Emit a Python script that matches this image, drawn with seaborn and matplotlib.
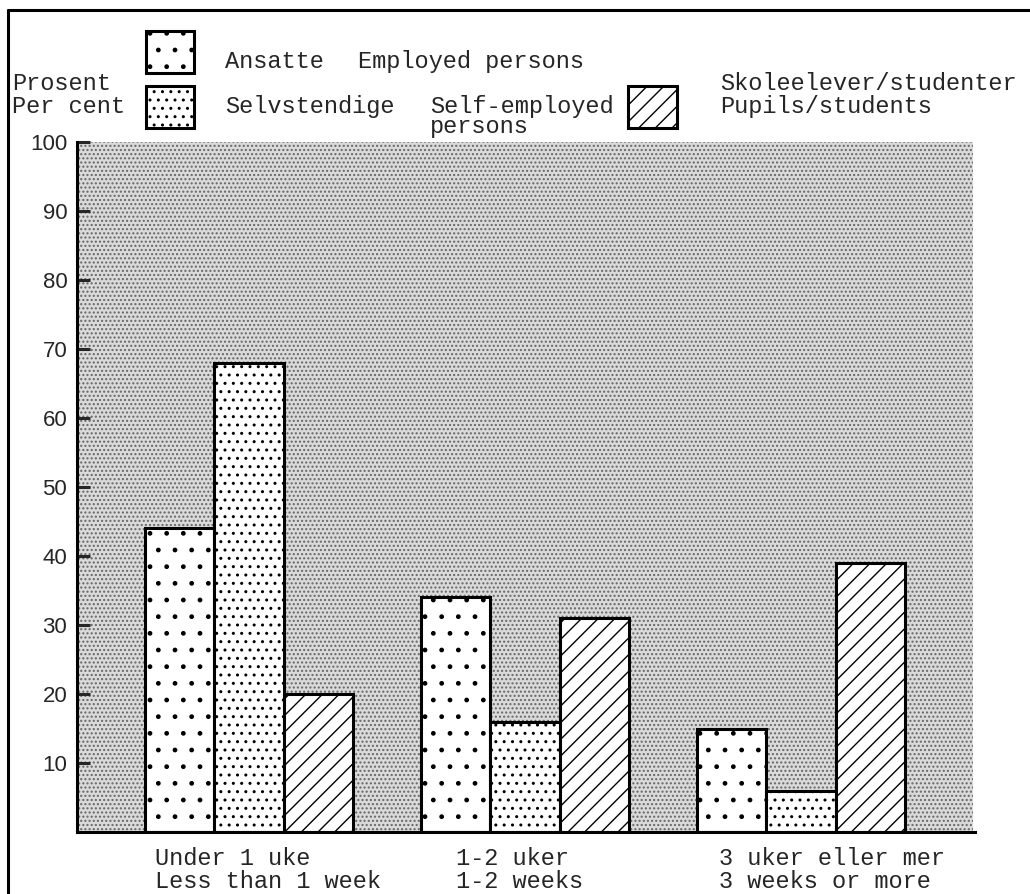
import seaborn as sns
import matplotlib.pyplot as plt
import matplotlib.transforms as mtransforms
from matplotlib.patches import Rectangle
from matplotlib.lines import Line2D
import pandas as pd

periods = ["Under 1 uke\nLess than 1 week", "1-2 uker\n1-2 weeks",
           "3 uker eller mer\n3 weeks or more"]
groups = ["Ansatte", "Selvstendige", "Skoleelever/studenter"]
ansatte = [44, 34, 15]
selvstendige = [68, 16, 6]
skoleelever = [20, 31, 39]
y_ticks = [10, 20, 30, 40, 50, 60, 70, 80, 90, 100]

hatches = {"Ansatte": ".", "Selvstendige": "..", "Skoleelever/studenter": "//"}
label_shift_px = [-94, -69, -82]

W, H = 1030, 894
MONO = "Liberation Mono"


def fx(x):
    return x / W


def fy(y):
    return 1 - y / H


df = pd.DataFrame({
    "period": periods * 3,
    "group": [g for g in groups for _ in periods],
    "share": ansatte + selvstendige + skoleelever,
})

sns.set_style("white")
plt.rcParams["hatch.linewidth"] = 1.0
plt.rcParams["hatch.color"] = "black"

fig = plt.figure(figsize=(W / 100, H / 100), dpi=100)
ax = fig.add_axes([fx(77), fy(832), fx(973) - fx(77), (832 - 142) / H])

# stippled background of the plot area
ax.add_patch(Rectangle((0, 0), 1, 1, transform=ax.transAxes, facecolor="#dadada",
                       edgecolor="#666666", lw=0, hatch="....", zorder=0))

sns.barplot(data=df, x="period", y="share", hue="group", order=periods,
            hue_order=groups, palette={g: "white" for g in groups},
            saturation=1, width=0.754, gap=0, edgecolor="black", linewidth=2.2,
            legend=False, ax=ax, zorder=2)

for cont, g in zip(ax.containers, groups):
    for bar in cont:
        bar.set_hatch(hatches[g])

ax.set_xlim(-0.623, 2.623)
ax.set_ylim(0, 100)
ax.set_yticks(y_ticks)
ax.set_yticklabels([str(t) for t in y_ticks], family="Liberation Sans", fontsize=16)
ax.tick_params(axis="y", direction="in", length=9, width=2.2, pad=7, left=True)
ax.tick_params(axis="x", length=0, pad=11)
ax.set_xlabel("")
ax.set_ylabel("")
for side in ["top", "right"]:
    ax.spines[side].set_visible(False)
for side in ["left", "bottom"]:
    ax.spines[side].set_linewidth(2.2)
    ax.spines[side].set_color("black")
ax.spines["bottom"].set_bounds(-0.623, 2.63)

for lab, dx in zip(ax.get_xticklabels(), label_shift_px):
    lab.set_family(MONO)
    lab.set_fontsize(17)
    lab.set_ha("left")
    lab.set_linespacing(1.0)
    lab.set_transform(lab.get_transform() +
                      mtransforms.ScaledTranslation(dx / 100, 0, fig.dpi_scale_trans))

# outer frame (top and left edges)
fig.add_artist(Line2D([fx(8), 1], [fy(10), fy(10)], color="black", lw=2.2))
fig.add_artist(Line2D([fx(8), fx(8)], [fy(10), 0], color="black", lw=2.2))

# legend keys
for (x0, y0, x1, y1), g in zip([(146, 31, 194, 73), (146, 86, 194, 128),
                                (628, 86, 677, 128)], groups):
    fig.add_artist(Rectangle((fx(x0), fy(y1)), fx(x1) - fx(x0), fy(y0) - fy(y1),
                             facecolor="white", edgecolor="black", lw=2.2,
                             hatch=hatches[g], transform=fig.transFigure))

texts = [
    (225, 68, "Ansatte"), (358, 68, "Employed persons"),
    (12, 90, "Prosent"), (12, 113, "Per cent"),
    (225, 113, "Selvstendige"),
    (720, 90, "Skoleelever/studenter"), (720, 113, "Pupils/students"),
]
for x, y, s in texts:
    fig.text(fx(x), fy(y), s, family=MONO, fontsize=17, ha="left", va="baseline")
fig.text(fx(430), fy(133), "Self-employed\npersons", family=MONO, fontsize=17,
         ha="left", va="baseline", linespacing=0.85)

plt.savefig("out.png", dpi=100)
